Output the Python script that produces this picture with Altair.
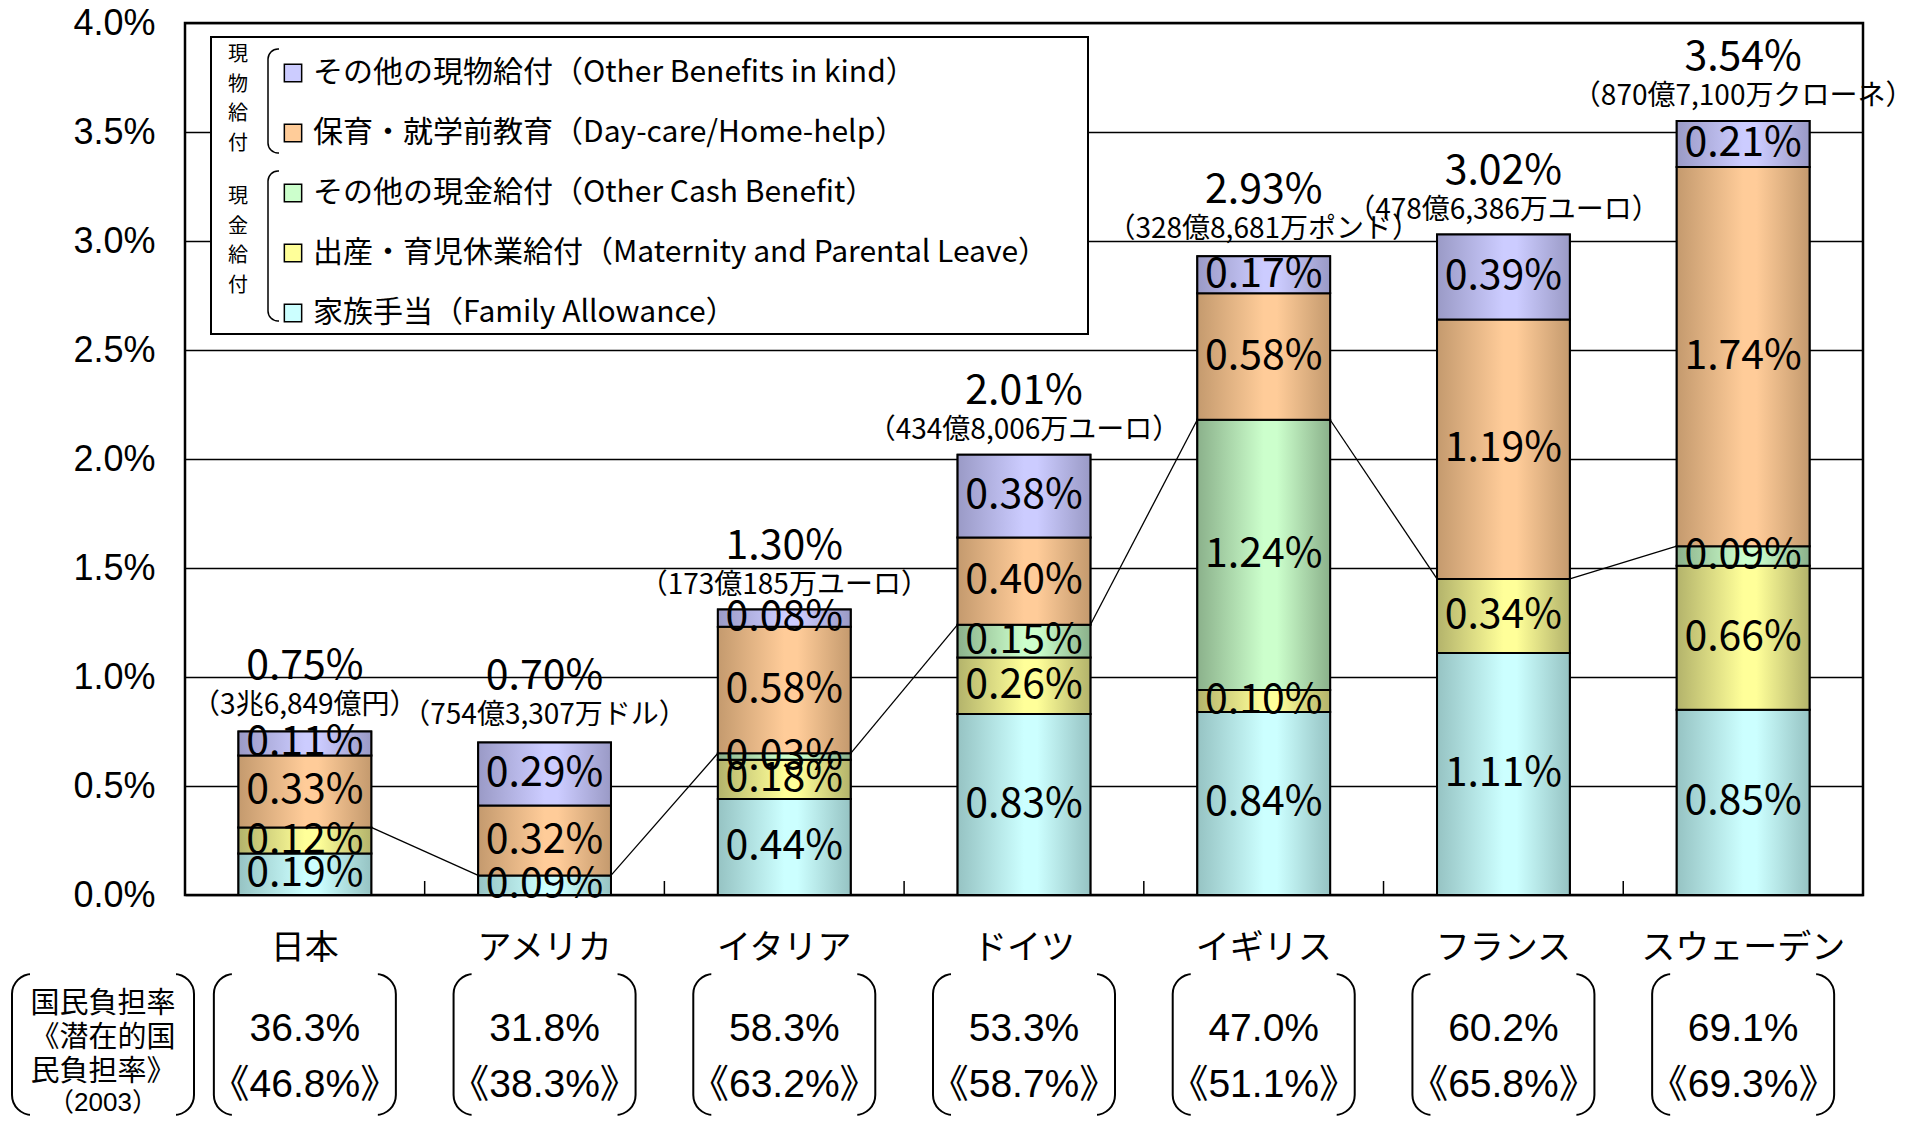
import altair as alt
import pandas as pd

# ---------------- data ----------------
countries = ["日本", "アメリカ", "イタリア", "ドイツ", "イギリス", "フランス", "スウェーデン"]

family_allowance = [0.19, 0.09, 0.44, 0.83, 0.84, 1.11, 0.85]
maternity = [0.12, 0.00, 0.18, 0.26, 0.10, 0.34, 0.66]
other_cash = [0.00, 0.00, 0.03, 0.15, 1.24, 0.00, 0.09]
day_care = [0.33, 0.32, 0.58, 0.40, 0.58, 1.19, 1.74]
other_kind = [0.11, 0.29, 0.08, 0.38, 0.17, 0.39, 0.21]

totals = [0.75, 0.70, 1.30, 2.01, 2.93, 3.02, 3.54]
spending = ["（3兆6,849億円）", "（754億3,307万ドル）", "（173億185万ユーロ）",
            "（434億8,006万ユーロ）", "（328億8,681万ポンド）", "（478億6,386万ユーロ）",
            "（870億7,100万クローネ）"]
burden = ["36.3%", "31.8%", "58.3%", "53.3%", "47.0%", "60.2%", "69.1%"]
potential_burden = ["46.8%", "38.3%", "63.2%", "58.7%", "51.1%", "65.8%", "69.3%"]

categories = ["家族手当（Family Allowance）",
              "出産・育児休業給付（Maternity and Parental Leave）",
              "その他の現金給付（Other Cash Benefit）",
              "保育・就学前教育（Day-care/Home-help）",
              "その他の現物給付（Other Benefits in kind）"]
series = [family_allowance, maternity, other_cash, day_care, other_kind]
light = ["#CCFFFF", "#FFFF99", "#CCFFCC", "#FFCC99", "#CCCCFF"]
dark = ["#96C3C3", "#B3B36B", "#8BB18B", "#C49A6E", "#9A9AC6"]

left_label = "国民負担率\n《潜在的国\n民負担率》"
left_year = "（2003）"

# ---------------- fonts / layout ----------------
NARROW = '"Liberation Sans Narrow", "Arial Narrow", "Noto Sans CJK JP", sans-serif'
ARIAL = '"Liberation Sans", Arial, "Noto Sans CJK JP", sans-serif'
JP = '"Noto Sans CJK JP", sans-serif'
W, H = 1678, 872

rows = []
for ci, c in enumerate(countries):
    for k, (cat, vals) in enumerate(zip(categories, series)):
        if vals[ci] > 0:
            rows.append({"country": c, "cat": cat, "order": k, "value": vals[ci]})
seg = pd.DataFrame(rows)

tot_df = pd.DataFrame({"country": countries, "total": totals, "spend": spending})

cash_top = [round(a + b + c, 2) for a, b, c in zip(family_allowance, maternity, other_cash)]
line_df = pd.DataFrame({"from": countries[:-1], "to": countries[1:],
                        "y_from": cash_top[:-1], "y_to": cash_top[1:]})

box_df = pd.DataFrame({"country": countries, "burden": burden, "pot": potential_burden})

xscale = alt.Scale(domain=countries, paddingInner=0.446, paddingOuter=0.223)
xaxis = alt.Axis(title=None, labelFont=JP, labelFontSize=34, labelColor="black",
                 labelPadding=53, labelBaseline="middle", ticks=False, tickSize=0,
                 domain=False, grid=False, labelAngle=0, labelLimit=0, labelOverlap=False)
yscale = alt.Scale(domain=[0, 4], nice=False, zero=True)
yaxis = alt.Axis(title=None, values=[0, 0.5, 1, 1.5, 2, 2.5, 3, 3.5, 4],
                 labelExpr="format(datum.value, '.1f') + '%'", grid=True,
                 gridColor="black", gridWidth=1.6, gridOpacity=1, domain=False,
                 ticks=False, tickSize=0, labelPadding=30, labelFont=ARIAL,
                 labelFontSize=36, labelColor="black", labelOverlap=False)


def X(field, **kw):
    return alt.X(field, type="nominal", scale=xscale, axis=xaxis, **kw)


def Y(field):
    return alt.Y(field, type="quantitative", scale=yscale, axis=yaxis)


one = pd.DataFrame({"k": [0]})

# ---------------- legend decorations ----------------
legend_frame = alt.Chart(one).mark_rect(fill="white", stroke="black", strokeWidth=2).encode(
    x=alt.value(26), x2=alt.value(903), y=alt.value(14), y2=alt.value(311))


def bracket(y0, y1):
    outline = alt.Chart(one).mark_rect(fill="white", fillOpacity=0, stroke="black",
                                       strokeWidth=1.5, cornerRadius=10).encode(
        x=alt.value(83), x2=alt.value(113), y=alt.value(y0), y2=alt.value(y1))
    cover = alt.Chart(one).mark_rect(fill="white").encode(
        x=alt.value(94), x2=alt.value(118), y=alt.value(y0 - 4), y2=alt.value(y1 + 4))
    return [outline, cover]


group_kind = alt.Chart(one).mark_text(font=JP, fontSize=20, lineBreak="\n", lineHeight=29.5,
                                      baseline="middle", color="black").encode(
    x=alt.value(53), y=alt.value(32), text=alt.value("現\n物\n給\n付"))
group_cash = alt.Chart(one).mark_text(font=JP, fontSize=20, lineBreak="\n", lineHeight=29.5,
                                      baseline="middle", color="black").encode(
    x=alt.value(53), y=alt.value(174), text=alt.value("現\n金\n給\n付"))

# ---------------- bars ----------------
stacked = alt.Chart(seg).transform_stack(
    stack="value", as_=["y0", "y1"], groupby=["country"],
    sort=[alt.SortField(field="order", order="ascending")]
).transform_calculate(
    mid="(datum.y0 + datum.y1) / 2",
    lbl="format(datum.value, '.2f') + '%'"
)

legend_order = categories[::-1]
legend_colors = light[::-1]

solid = stacked.mark_bar(stroke="black", strokeWidth=2).encode(
    x=X("country"), y=Y("y0"), y2="y1",
    color=alt.Color("cat:N", scale=alt.Scale(domain=legend_order, range=legend_colors),
                    legend=alt.Legend(title=None, orient="none", legendX=93, legendY=35,
                                      direction="vertical", symbolType="square",
                                      symbolSize=300, symbolStrokeColor="black",
                                      symbolStrokeWidth=1.5, labelFont=NARROW,
                                      labelFontSize=30, labelColor="black",
                                      labelOffset=5, rowPadding=30, padding=0,
                                      labelLimit=0)))

grad_layers = []
for i, cat in enumerate(categories):
    grad = alt.LinearGradient(
        gradient="linear", x1=0, x2=1, y1=0, y2=0,
        stops=[alt.GradientStop(color=dark[i], offset=0),
               alt.GradientStop(color=light[i], offset=0.5),
               alt.GradientStop(color=light[i], offset=0.6),
               alt.GradientStop(color=dark[i], offset=1)])
    grad_layers.append(
        stacked.transform_filter(alt.datum.cat == cat).mark_bar(
            fill=grad, stroke="black", strokeWidth=2).encode(
            x=X("country"), y=Y("y0"), y2="y1"))

seg_text = stacked.mark_text(font=NARROW, fontSize=41, color="black", baseline="middle").encode(
    x=X("country"), y=Y("mid"), text="lbl:N")

links = alt.Chart(line_df).mark_rule(color="black", strokeWidth=1.3).encode(
    x=X("from", bandPosition=1), x2=alt.X2("to", bandPosition=0),
    y=Y("y_from"), y2="y_to")

ticks = alt.Chart(pd.DataFrame({"country": countries[1:]})).mark_rule(
    color="black", strokeWidth=1.5, xOffset=-53.5).encode(
    x=X("country", bandPosition=0), y=alt.value(H), y2=alt.value(H - 14))

tot_text = alt.Chart(tot_df).transform_calculate(
    tl="format(datum.total, '.2f') + '%'"
).mark_text(font=NARROW, fontSize=41, dy=-65, baseline="middle", color="black").encode(
    x=X("country"), y=Y("total"), text="tl:N")

spend_text = alt.Chart(tot_df).mark_text(font=NARROW, fontSize=28, dy=-26,
                                         baseline="middle", color="black").encode(
    x=X("country"), y=Y("total"), text="spend:N")

# ---------------- bottom boxes ----------------
BOX_T, BOX_B = 951, 1092
boxes = alt.Chart(box_df).mark_bar(width=182, cornerRadius=20, fill="white", fillOpacity=0,
                                   stroke="black", strokeWidth=2).encode(
    x=X("country"), y=alt.value(BOX_T), y2=alt.value(BOX_B))
box_cover_t = alt.Chart(box_df).mark_bar(width=146, fill="white").encode(
    x=X("country"), y=alt.value(BOX_T - 4), y2=alt.value(BOX_T + 4))
box_cover_b = alt.Chart(box_df).mark_bar(width=146, fill="white").encode(
    x=X("country"), y=alt.value(BOX_B - 4), y2=alt.value(BOX_B + 4))
burden_text = alt.Chart(box_df).mark_text(font=ARIAL, fontSize=39, baseline="middle",
                                          color="black").encode(
    x=X("country"), y=alt.value(1006), text="burden:N")
pot_text = alt.Chart(box_df).transform_calculate(
    pl="'《' + datum.pot + '》'"
).mark_text(font=ARIAL, fontSize=39, baseline="middle", color="black").encode(
    x=X("country"), y=alt.value(1062), text="pl:N")

left_box = alt.Chart(one).mark_rect(fill="white", fillOpacity=0, stroke="black",
                                    strokeWidth=2, cornerRadius=20).encode(
    x=alt.value(-173), x2=alt.value(9), y=alt.value(BOX_T), y2=alt.value(BOX_B))
left_cover_t = alt.Chart(one).mark_rect(fill="white").encode(
    x=alt.value(-155), x2=alt.value(-9), y=alt.value(BOX_T - 4), y2=alt.value(BOX_T + 4))
left_cover_b = alt.Chart(one).mark_rect(fill="white").encode(
    x=alt.value(-155), x2=alt.value(-9), y=alt.value(BOX_B - 4), y2=alt.value(BOX_B + 4))
left_text = alt.Chart(one).mark_text(font=JP, fontSize=29, lineBreak="\n", lineHeight=34,
                                     baseline="middle", color="black").encode(
    x=alt.value(-82), y=alt.value(981), text=alt.value(left_label))
left_year_text = alt.Chart(one).mark_text(font=ARIAL, fontSize=26, baseline="middle",
                                          color="black").encode(
    x=alt.value(-82), y=alt.value(1080), text=alt.value(left_year))

layers = [legend_frame] + bracket(26, 130) + bracket(148, 298) + [group_kind, group_cash,
          solid] + grad_layers + [links, ticks, seg_text, tot_text, spend_text,
          boxes, box_cover_t, box_cover_b, burden_text, pot_text,
          left_box, left_cover_t, left_cover_b, left_text, left_year_text]

chart = alt.layer(*layers).properties(
    width=W, height=H,
    autosize=alt.AutoSizeParams(type="none"),
    padding={"left": 177, "top": 15, "right": 45, "bottom": 222},
    background="white",
).configure_view(stroke="black", strokeWidth=2.5)

chart.save("out.html", embed_options={"renderer": "svg", "actions": False})
